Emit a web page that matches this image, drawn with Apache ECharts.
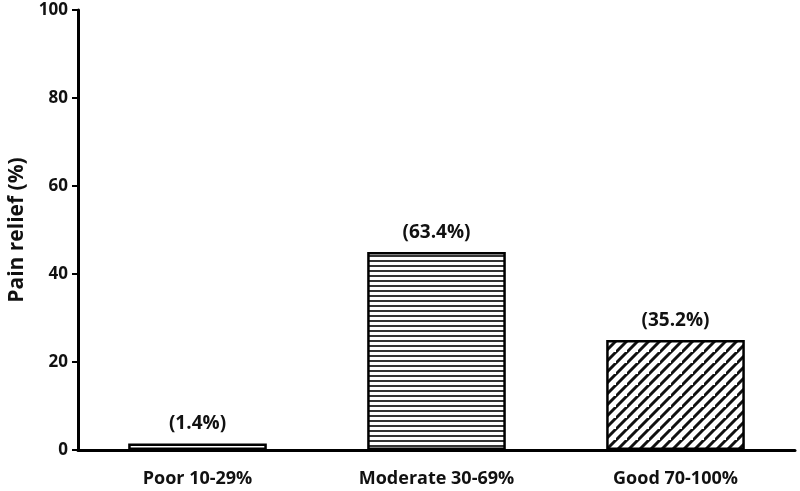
<!DOCTYPE html>
<html><head><meta charset="utf-8">
<script src="https://cdn.jsdelivr.net/npm/echarts@6/dist/echarts.min.js"></script>
<style>html,body{margin:0;padding:0;background:#fff}#c{width:800px;height:491px}</style>
</head><body><div id="c"></div>
<script>
const categories = ['Poor 10-29%', 'Moderate 30-69%', 'Good 70-100%'];
const values = [1.5, 45, 25];
const pctLabels = ['(1.4%)', '(63.4%)', '(35.2%)'];
const yTicks = [0, 20, 40, 60, 80, 100];

function makePattern(kind) {
  const c = document.createElement('canvas');
  const ctx = c.getContext('2d');
  if (kind === 'h') {
    c.width = 10; c.height = 5;
    ctx.fillStyle = '#fff'; ctx.fillRect(0, 0, 10, 5);
    ctx.fillStyle = '#333'; ctx.fillRect(0, 0, 10, 2);
  } else if (kind === 'd') {
    const s = 11;
    c.width = s; c.height = s;
    ctx.fillStyle = '#fff'; ctx.fillRect(0, 0, s, s);
    ctx.strokeStyle = '#111'; ctx.lineWidth = 3;
    ctx.beginPath();
    ctx.moveTo(-2, s + 2); ctx.lineTo(s + 2, -2);
    ctx.moveTo(-2 - s, s + 2); ctx.lineTo(2, -2);
    ctx.moveTo(s - 2, 2 * s + 2); ctx.lineTo(2 * s + 2, s - 2);
    ctx.stroke();
  } else {
    c.width = 6; c.height = 7;
    ctx.fillStyle = '#fff'; ctx.fillRect(0, 0, 6, 7);
    ctx.fillStyle = '#444'; ctx.fillRect(0, 2, 4, 2);
  }
  return {image: c, repeat: 'repeat'};
}
const patterns = [makePattern('p'), makePattern('h'), makePattern('d')];
const font = 'Open Sans';

const chart = echarts.init(document.getElementById('c'));
chart.setOption({
  animation: false,
  grid: {left: 78, right: 5, top: 10, bottom: 41, containLabel: false, outerBoundsMode: 'none'},
  xAxis: {
    type: 'category', data: categories,
    axisLine: {lineStyle: {color: '#000', width: 3}},
    axisTick: {show: false},
    axisLabel: {color: '#111', fontFamily: font, fontWeight: 'bold', fontSize: 18, margin: 20}
  },
  yAxis: {
    type: 'value', min: yTicks[0], max: yTicks[yTicks.length - 1], interval: 20,
    name: 'Pain relief (%)', nameLocation: 'middle', nameGap: 50, nameRotate: 90,
    nameTextStyle: {color: '#111', fontFamily: font, fontWeight: 'bold', fontSize: 21},
    axisLine: {show: true, lineStyle: {color: '#000', width: 3}},
    axisTick: {show: true, length: 6, lineStyle: {color: '#000', width: 2}},
    axisLabel: {color: '#111', fontFamily: font, fontWeight: 'bold', fontSize: 17, margin: 10},
    splitLine: {show: false}
  },
  series: [{
    type: 'bar', barWidth: '58%',
    data: values.map((v, i) => ({
      value: v,
      itemStyle: {color: patterns[i], borderColor: '#000', borderWidth: 2.5},
      label: {show: true, position: 'top', distance: 10, formatter: pctLabels[i],
        color: '#111', fontFamily: font, fontWeight: 'bold', fontSize: 19}
    }))
  }]
});
</script></body></html>
